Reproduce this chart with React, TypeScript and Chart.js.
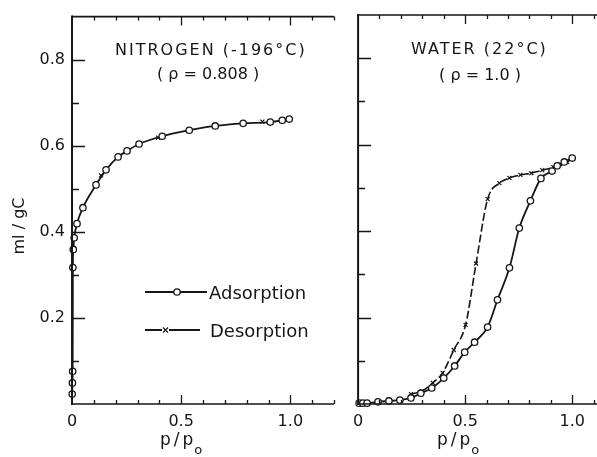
import React, { useEffect, useRef } from "react";
import { Chart, registerables } from "chart.js";

Chart.register(...registerables);

// ---------- data ----------
// Nitrogen (-196 °C), adsorption
const n2AdsP = [0.001, 0.002, 0.003, 0.004, 0.006, 0.01, 0.023, 0.05, 0.11, 0.156, 0.211, 0.252, 0.307, 0.413, 0.537, 0.656, 0.784, 0.908, 0.963, 0.995];
const n2AdsV = [0.023, 0.049, 0.076, 0.317, 0.359, 0.386, 0.419, 0.456, 0.509, 0.544, 0.574, 0.588, 0.604, 0.622, 0.636, 0.646, 0.652, 0.655, 0.659, 0.662];
// Nitrogen, desorption
const n2DesP = [0.133, 0.394, 0.656, 0.872];
const n2DesV = [0.531, 0.619, 0.647, 0.656];
// Water (22 °C), adsorption
const h2oAdsP = [0.005, 0.022, 0.042, 0.093, 0.144, 0.195, 0.247, 0.293, 0.344, 0.4, 0.451, 0.498, 0.544, 0.605, 0.651, 0.707, 0.753, 0.805, 0.854, 0.906, 0.93, 0.963, 1.0];
const h2oAdsV = [0.002, 0.002, 0.002, 0.005, 0.007, 0.009, 0.014, 0.025, 0.037, 0.06, 0.088, 0.12, 0.143, 0.178, 0.241, 0.315, 0.407, 0.47, 0.522, 0.539, 0.551, 0.56, 0.569];
// Water, desorption
const h2oDesP = [0.247, 0.298, 0.349, 0.395, 0.447, 0.502, 0.551, 0.605, 0.66, 0.707, 0.758, 0.809, 0.86, 0.912, 0.944, 0.977, 1.0];
const h2oDesV = [0.023, 0.03, 0.049, 0.072, 0.125, 0.183, 0.325, 0.474, 0.511, 0.523, 0.53, 0.534, 0.541, 0.548, 0.555, 0.56, 0.569];

// ---------- ticks & labels ----------
const xLabelValues = [0, 0.5, 1.0];
const xLabels = ["0", "0.5", "1.0"];
const yLabelValues = [0.2, 0.4, 0.6, 0.8];
const yLabels = ["0.2", "0.4", "0.6", "0.8"];
const xTickValues = [0.1, 0.2, 0.3, 0.4, 0.5, 0.6, 0.7, 0.8, 0.9, 1.0, 1.1, 1.2];
const xMajorValues = [0.5, 1.0];
const yTickValues = [0.1, 0.2, 0.3, 0.4, 0.5, 0.6, 0.7, 0.8];
const yMajorValues = [0.2, 0.4, 0.6, 0.8];

const leftTitle = ["NITROGEN (-196°C)", "( ρ = 0.808 )"];
const rightTitle = ["WATER (22°C)", "( ρ = 1.0 )"];
const legendLabels = ["Adsorption", "Desorption"];
const yTitle = "ml / gC";
const xTitleMain = "p/p";
const xTitleSub = "o";

const INK = "#161616";
const FONT = "'DejaVu Sans', sans-serif";

const toPoints = (xs: number[], ys: number[]) => xs.map((x, i) => ({ x, y: ys[i] }));
const isIn = (v: number, arr: number[]) => arr.some((a) => Math.abs(a - v) < 1e-6);

function decorPlugin(side: "left" | "right") {
  const isLeft = side === "left";
  return {
    id: "decor-" + side,
    afterDatasetsDraw(chart: any) {
      const { ctx, chartArea: a, scales } = chart;
      const xs = scales.x;
      const ys = scales.y;
      ctx.save();
      ctx.strokeStyle = INK;
      ctx.fillStyle = INK;
      ctx.lineCap = "butt";

      // frame
      ctx.lineWidth = 2;
      ctx.beginPath();
      ctx.moveTo(a.left, a.top - 1);
      ctx.lineTo(a.left, a.bottom + 1);
      ctx.stroke();
      ctx.lineWidth = 1.6;
      ctx.beginPath();
      ctx.moveTo(a.left, a.bottom);
      ctx.lineTo(a.right, a.bottom);
      ctx.moveTo(a.left, a.top);
      ctx.lineTo(a.right, a.top);
      ctx.stroke();

      // inward ticks
      ctx.lineWidth = 1.3;
      ctx.beginPath();
      for (const t of xTickValues) {
        const px = Math.round(xs.getPixelForValue(t)) + 0.5;
        const len = isIn(t, xMajorValues) ? 9 : 4;
        ctx.moveTo(px, a.bottom);
        ctx.lineTo(px, a.bottom - len);
        ctx.moveTo(px, a.top);
        ctx.lineTo(px, a.top + len);
      }
      for (const t of yTickValues) {
        const py = Math.round(ys.getPixelForValue(t)) + 0.5;
        const len = isIn(t, yMajorValues) ? 13 : 7;
        ctx.moveTo(a.left, py);
        ctx.lineTo(a.left + len, py);
      }
      ctx.stroke();

      // panel titles
      const lines = isLeft ? leftTitle : rightTitle;
      const p1 = isLeft ? [43, 34] : [53, 35];
      const p2 = isLeft ? [85, 58] : [81, 61];
      ctx.font = `16px ${FONT}`;
      ctx.textAlign = "left";
      ctx.textBaseline = "middle";
      (ctx as any).letterSpacing = "2px";
      ctx.fillText(lines[0], a.left + p1[0], a.top + p1[1]);
      (ctx as any).letterSpacing = "0px";
      ctx.fillText(lines[1], a.left + p2[0], a.top + p2[1]);

      // x title p/po
      ctx.font = `17px ${FONT}`;
      (ctx as any).letterSpacing = "3px";
      const wMain = ctx.measureText(xTitleMain).width;
      ctx.font = `13px ${FONT}`;
      (ctx as any).letterSpacing = "0px";
      const wSub = ctx.measureText(xTitleSub).width;
      const cx = xs.getPixelForValue(0.5) + (isLeft ? 1 : -6);
      const x0 = cx - (wMain + wSub) / 2;
      ctx.textBaseline = "alphabetic";
      ctx.font = `17px ${FONT}`;
      (ctx as any).letterSpacing = "3px";
      ctx.fillText(xTitleMain, x0, a.bottom + 41);
      (ctx as any).letterSpacing = "0px";
      ctx.font = `13px ${FONT}`;
      ctx.fillText(xTitleSub, x0 + wMain - 2, a.bottom + 50);

      if (isLeft) {
        // y title
        ctx.save();
        ctx.translate(20, 226);
        ctx.rotate(-Math.PI / 2);
        ctx.font = `16px ${FONT}`;
        ctx.textAlign = "center";
        ctx.textBaseline = "middle";
        ctx.fillText(yTitle, 0, 0);
        ctx.restore();

        // legend
        const ly1 = 292;
        const ly2 = 330;
        ctx.lineWidth = 1.8;
        ctx.setLineDash([]);
        ctx.beginPath();
        ctx.moveTo(145, ly1);
        ctx.lineTo(207, ly1);
        ctx.stroke();
        ctx.beginPath();
        ctx.arc(177, ly1, 3.2, 0, Math.PI * 2);
        ctx.fillStyle = "#fff";
        ctx.fill();
        ctx.lineWidth = 1.3;
        ctx.stroke();
        ctx.fillStyle = INK;

        ctx.lineWidth = 1.8;
        ctx.beginPath();
        ctx.moveTo(145, ly2);
        ctx.lineTo(162, ly2);
        ctx.moveTo(169, ly2);
        ctx.lineTo(200, ly2);
        ctx.stroke();
        ctx.lineWidth = 1.2;
        ctx.beginPath();
        ctx.moveTo(163, ly2 - 2.5);
        ctx.lineTo(168, ly2 + 2.5);
        ctx.moveTo(168, ly2 - 2.5);
        ctx.lineTo(163, ly2 + 2.5);
        ctx.stroke();

        ctx.font = `18px ${FONT}`;
        ctx.textAlign = "left";
        ctx.textBaseline = "alphabetic";
        ctx.fillText(legendLabels[0], 209, ly1 + 7);
        ctx.fillText(legendLabels[1], 210, ly2 + 7);
      }
      ctx.restore();
    },
  };
}

function makeConfig(side: "left" | "right"): any {
  const isLeft = side === "left";
  const ads = isLeft ? toPoints(n2AdsP, n2AdsV) : toPoints(h2oAdsP, h2oAdsV);
  const des = isLeft ? toPoints(n2DesP, n2DesV) : toPoints(h2oDesP, h2oDesV);
  const tickFont = { family: FONT, size: 16 };
  return {
    type: "line",
    data: {
      datasets: [
        {
          label: legendLabels[0],
          data: ads,
          borderColor: INK,
          borderWidth: 1.8,
          pointStyle: "circle",
          pointRadius: 3.2,
          pointBorderWidth: 1.3,
          pointBorderColor: INK,
          pointBackgroundColor: "#ffffff",
          cubicInterpolationMode: "monotone",
          fill: false,
          clip: 10,
        },
        {
          label: legendLabels[1],
          data: des,
          showLine: !isLeft,
          borderColor: INK,
          borderWidth: 1.6,
          borderDash: [8, 3],
          pointStyle: "crossRot",
          pointRadius: 2.8,
          pointBorderWidth: 1.2,
          pointBorderColor: INK,
          pointBackgroundColor: INK,
          cubicInterpolationMode: "monotone",
          fill: false,
          clip: 10,
        },
      ],
    },
    options: {
      animation: false,
      responsive: false,
      maintainAspectRatio: false,
      events: [],
      layout: { padding: { left: 0, top: 15, right: isLeft ? 11 : 30, bottom: 0 } },
      plugins: { legend: { display: false }, tooltip: { enabled: false }, title: { display: false } },
      scales: {
        x: {
          type: "linear",
          min: 0,
          max: 1.2,
          grid: { display: false, drawTicks: false },
          border: { display: false },
          afterBuildTicks: (s: any) => {
            s.ticks = xLabelValues.map((v) => ({ value: v }));
          },
          afterFit: (s: any) => {
            s.height = 53;
          },
          ticks: {
            autoSkip: false,
            maxRotation: 0,
            padding: 8,
            color: INK,
            font: tickFont,
            callback: (v: number) => {
              const i = xLabelValues.findIndex((a) => Math.abs(a - v) < 1e-6);
              return i >= 0 ? xLabels[i] : "";
            },
          },
        },
        y: {
          type: "linear",
          min: 0,
          max: 0.9,
          grid: { display: false, drawTicks: false },
          border: { display: false },
          afterBuildTicks: (s: any) => {
            s.ticks = yLabelValues.map((v) => ({ value: v }));
          },
          afterFit: (s: any) => {
            s.width = isLeft ? 72 : 12;
          },
          ticks: {
            display: isLeft,
            autoSkip: false,
            padding: 7,
            color: INK,
            font: tickFont,
            callback: (v: number) => {
              const i = yLabelValues.findIndex((a) => Math.abs(a - v) < 1e-6);
              return i >= 0 ? yLabels[i] : "";
            },
          },
        },
      },
    },
    plugins: [decorPlugin(side)],
  };
}

export default function App() {
  const leftRef = useRef<HTMLCanvasElement | null>(null);
  const rightRef = useRef<HTMLCanvasElement | null>(null);

  useEffect(() => {
    const charts: Chart[] = [];
    if (leftRef.current) charts.push(new Chart(leftRef.current, makeConfig("left")));
    if (rightRef.current) charts.push(new Chart(rightRef.current, makeConfig("right")));
    return () => charts.forEach((c) => c.destroy());
  }, []);

  return (
    <div
      style={{
        position: "fixed",
        left: 0,
        top: 0,
        width: 597,
        height: 457,
        overflow: "hidden",
        background: "#ffffff",
      }}
    >
      <canvas
        ref={leftRef}
        width={345}
        height={457}
        style={{ position: "absolute", left: 0, top: 0, width: 345, height: 457 }}
      />
      <canvas
        ref={rightRef}
        width={300}
        height={457}
        style={{ position: "absolute", left: 345, top: 0, width: 300, height: 457 }}
      />
    </div>
  );
}
